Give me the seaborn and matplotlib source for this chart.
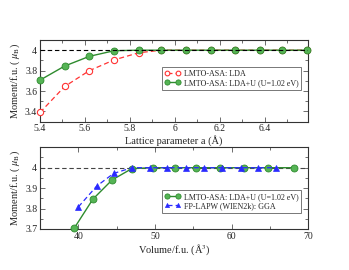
import matplotlib
matplotlib.use("Agg")
import matplotlib.pyplot as plt
import seaborn as sns
from matplotlib.ticker import FuncFormatter, MultipleLocator, FixedLocator

# ---- top panel: moment vs lattice parameter ----
a_lat = [5.40, 5.51, 5.62, 5.73, 5.84, 5.94, 6.05, 6.16, 6.27, 6.38, 6.48, 6.59]
m_lda = [3.39, 3.645, 3.80, 3.905, 3.975, 4.0, 4.0, 4.0, 4.0, 4.0, 4.0, 4.0]
m_ldau = [3.707, 3.845, 3.94, 3.995, 4.0, 4.0, 4.0, 4.0, 4.0, 4.0, 4.0, 4.0]

# ---- bottom panel: moment vs volume ----
vol_ldau = [39.5, 41.9, 44.4, 47.0, 49.8, 52.6, 55.4, 58.5, 61.6, 64.8, 68.1]
m_ldau_v = [3.706, 3.846, 3.94, 3.996, 4.0, 4.0, 4.0, 4.0, 4.0, 4.0, 4.0]
vol_gga = [40.0, 42.4, 44.6, 47.0, 49.4, 51.6, 54.0, 56.4, 58.8, 61.2, 63.5, 65.8]
m_gga = [3.808, 3.91, 3.972, 4.0, 4.0, 4.0, 4.0, 4.0, 4.0, 4.0, 4.0, 4.0]

top_yticks = [3.4, 3.6, 3.8, 4.0]
bot_yticks = [3.7, 3.8, 3.9, 4.0]

RED = "#ff3333"
GREEN = "#55b455"
GREEN_EDGE = "#2e8b2e"
BLUE = "#2a2aff"

sns.set_style("ticks")
plt.rcParams["font.family"] = ["Liberation Serif", "DejaVu Serif"]
plt.rcParams["mathtext.fontset"] = "stix"

fig = plt.figure(figsize=(3.49, 2.70), dpi=100)
ax1 = fig.add_axes([0.1146, 0.5493, 0.7688, 0.3026])
ax2 = fig.add_axes([0.1146, 0.1519, 0.7688, 0.3026])

fmt = FuncFormatter(lambda v, _: "%g" % round(v, 3))

# top
sns.lineplot(x=a_lat, y=m_lda, ax=ax1, sort=False, estimator=None,
             color=RED, linestyle=(0, (4, 2.5)), lw=0.9, marker="o", ms=4.5,
             mfc="white", mec=RED, mew=0.8, clip_on=False,
             label="LMTO-ASA: LDA", zorder=3)
sns.lineplot(x=a_lat, y=m_ldau, ax=ax1, sort=False, estimator=None,
             color=GREEN_EDGE, lw=1.0, marker="o", ms=5,
             mfc=GREEN, mec=GREEN_EDGE, mew=0.6, clip_on=False,
             label="LMTO-ASA: LDA+U (U=1.02 eV)", zorder=4)
ax1.axhline(4.0, color="black", ls=(0, (4, 2.5)), lw=0.8, zorder=5)
ax1.set_xlim(5.4, 6.595)
ax1.set_ylim(3.3, 4.1)
ax1.xaxis.set_major_locator(MultipleLocator(0.2))
ax1.xaxis.set_minor_locator(MultipleLocator(0.1))
ax1.yaxis.set_major_locator(FixedLocator(top_yticks))
ax1.yaxis.set_minor_locator(MultipleLocator(0.1))
ax1.set_xlabel("Lattice parameter a (Å)", fontsize=7.5, labelpad=1)
ax1.set_ylabel("Moment/f.u. ( $\\mu_{\\mathrm{B}}$)", fontsize=7.5, labelpad=2)

# bottom
sns.lineplot(x=vol_ldau, y=m_ldau_v, ax=ax2, sort=False, estimator=None,
             color=GREEN_EDGE, lw=1.0, marker="o", ms=5,
             mfc=GREEN, mec=GREEN_EDGE, mew=0.6, clip_on=False,
             label="LMTO-ASA: LDA+U (U=1.02 eV)", zorder=3)
sns.lineplot(x=vol_gga, y=m_gga, ax=ax2, sort=False, estimator=None,
             color=BLUE, linestyle=(0, (4, 2.5)), lw=0.9, marker="^", ms=4,
             mfc=BLUE, mec=BLUE, mew=0.5, clip_on=False,
             label="FP-LAPW (WIEN2k): GGA", zorder=4)
ax2.axhline(4.0, color="#444444", ls=(0, (4, 2.5)), lw=0.8, zorder=2)
ax2.set_xlim(35, 70)
ax2.set_ylim(3.7, 4.1)
ax2.xaxis.set_major_locator(MultipleLocator(10))
ax2.xaxis.set_minor_locator(MultipleLocator(5))
ax2.yaxis.set_major_locator(FixedLocator(bot_yticks))
ax2.yaxis.set_minor_locator(MultipleLocator(0.05))
ax2.set_xlabel("Volume/f.u. (Å$^3$)", fontsize=7.5, labelpad=1)
ax2.set_ylabel("Moment/f.u. ( $\\mu_{\\mathrm{B}}$)", fontsize=7.5, labelpad=2)

for ax, leg_y in ((ax1, 0.666), (ax2, 0.477)):
    ax.xaxis.set_major_formatter(fmt)
    ax.yaxis.set_major_formatter(fmt)
    ax.tick_params(which="both", direction="in", top=True, right=True,
                   labelsize=7, width=0.6, color="#555555", pad=2)
    ax.tick_params(which="major", length=3.5)
    ax.tick_params(which="minor", length=2)
    for sp in ax.spines.values():
        sp.set_linewidth(0.8)
        sp.set_color("#333333")
    leg = ax.legend(loc="upper left", bbox_to_anchor=(0.4536, leg_y),
                    fontsize=5.8, frameon=True, fancybox=False, numpoints=2,
                    markerscale=0.75, edgecolor="#555555", handlelength=2.0,
                    handletextpad=0.4, borderpad=0.35, labelspacing=0.15,
                    borderaxespad=0)
    leg.get_frame().set_linewidth(0.7)

fig.savefig("out.png", dpi=100)
